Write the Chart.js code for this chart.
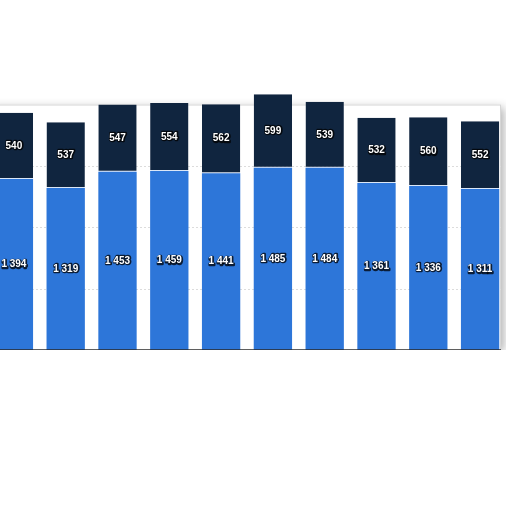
<!DOCTYPE html>
<html>
<head>
<meta charset="utf-8">
<script src="https://cdn.jsdelivr.net/npm/chart.js@4"></script>
<style>
  html, body { margin: 0; padding: 0; background: #fff; overflow: hidden; width: 512px; height: 512px; }
  #wrap { position: absolute; left: -12px; top: 80px; width: 518px; height: 270px; }
</style>
</head>
<body>
<div id="wrap"><canvas id="chart"></canvas></div>
<script>
const categories = ["1", "2", "3", "4", "5", "6", "7", "8", "9", "10"];
const lowerValues = [1394, 1319, 1453, 1459, 1441, 1485, 1484, 1361, 1336, 1311];
const upperValues = [540, 537, 547, 554, 562, 599, 539, 532, 560, 552];

const blue = "#2d76d9";
const navy = "#10253f";

function fmt(v) {
  return String(v).replace(/\B(?=(\d{3})+(?!\d))/g, " ");
}

// plot frame with a soft shadow, drawn under the bars
const framePlugin = {
  id: "frame",
  beforeDatasetsDraw(chart) {
    const { ctx, chartArea, scales } = chart;
    const top = scales.y.getPixelForValue(2000);
    const bottom = scales.y.getPixelForValue(0);
    const left = chartArea.left;
    const right = chartArea.right - 5;
    ctx.save();
    ctx.shadowColor = "rgba(0,0,0,0.3)";
    ctx.shadowBlur = 9;
    ctx.shadowOffsetX = 3;
    ctx.shadowOffsetY = 2;
    ctx.fillStyle = "#fff";
    ctx.fillRect(left, top, right - left, bottom - top);
    ctx.restore();
    ctx.save();
    ctx.strokeStyle = "#d6d6d6";
    ctx.lineWidth = 1;
    ctx.strokeRect(left + 0.5, top + 0.5, right - left - 1, bottom - top);
    ctx.strokeStyle = "#dcdcdc";
    ctx.setLineDash([2, 2]);
    [500, 1000, 1500].forEach(v => {
      const y = Math.round(scales.y.getPixelForValue(v)) + 0.5;
      ctx.beginPath();
      ctx.moveTo(left, y);
      ctx.lineTo(right, y);
      ctx.stroke();
    });
    ctx.restore();
  },
  afterDatasetsDraw(chart) {
    const { ctx, chartArea, scales } = chart;
    const bottom = scales.y.getPixelForValue(0);
    ctx.save();
    ctx.strokeStyle = "#2a2a2a";
    ctx.lineWidth = 1.5;
    ctx.beginPath();
    ctx.moveTo(chartArea.left, bottom);
    ctx.lineTo(chartArea.right - 5, bottom);
    ctx.stroke();
    ctx.restore();
  }
};

// white labels with a dark shadow, centred in each segment
const labelPlugin = {
  id: "segLabels",
  afterDatasetsDraw(chart) {
    const { ctx } = chart;
    ctx.save();
    ctx.font = "bold 10px 'Liberation Sans', sans-serif";
    ctx.textAlign = "center";
    ctx.textBaseline = "middle";
    ctx.lineJoin = "round";
    chart.data.datasets.forEach((ds, i) => {
      chart.getDatasetMeta(i).data.forEach((bar, j) => {
        const y = (bar.y + bar.base) / 2;
        const t = fmt(ds.data[j]);
        ctx.lineWidth = 2.5;
        ctx.strokeStyle = "rgba(0,0,0,0.75)";
        ctx.strokeText(t, bar.x + 0.5, y + 0.5);
        ctx.fillStyle = "#fff";
        ctx.fillText(t, bar.x, y);
      });
    });
    ctx.restore();
  }
};

new Chart(document.getElementById("chart"), {
  type: "bar",
  data: {
    labels: categories,
    datasets: [
      { label: "lower", data: lowerValues, backgroundColor: blue, borderWidth: 0 },
      { label: "upper", data: upperValues, backgroundColor: navy,
        borderColor: "#dbe7f7", borderWidth: { bottom: 1, top: 0, left: 0, right: 0 }, borderSkipped: false }
    ]
  },
  options: {
    responsive: true,
    maintainAspectRatio: false,
    animation: false,
    layout: { padding: 0 },
    categoryPercentage: 1,
    barPercentage: 0.74,
    plugins: { legend: { display: false }, tooltip: { enabled: false } },
    scales: {
      x: { stacked: true, display: false },
      y: { stacked: true, display: false, min: 0, max: 2200 }
    }
  },
  plugins: [framePlugin, labelPlugin]
});
</script>
</body>
</html>
